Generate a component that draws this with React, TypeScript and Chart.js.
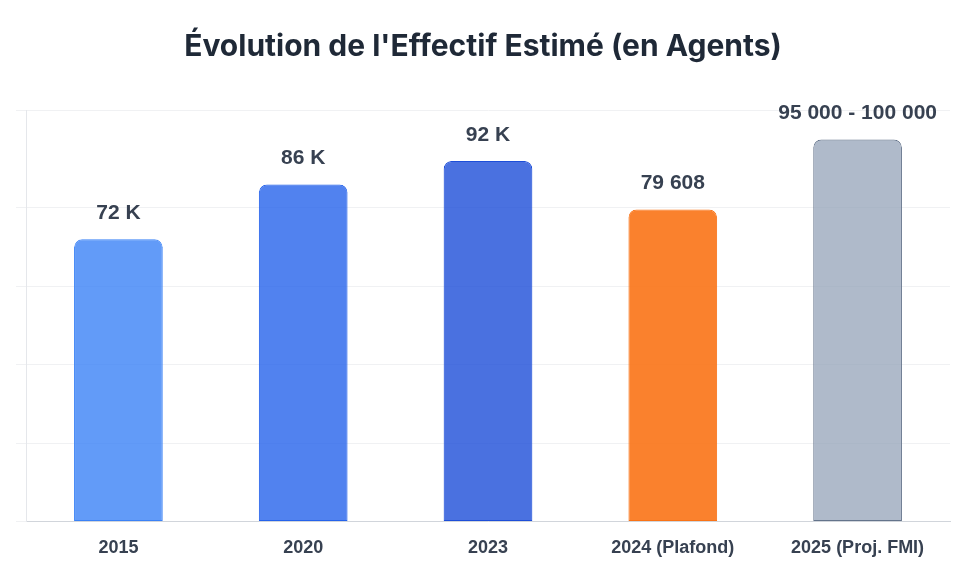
import React, { useEffect, useRef } from "react";
import { Chart, registerables } from "chart.js";

Chart.register(...registerables);

const categories = ["2015", "2020", "2023", "2024 (Plafond)", "2025 (Proj. FMI)"];
const values = [72000, 86000, 92000, 79608, 97500];
const valueLabels = ["72 K", "86 K", "92 K", "79 608", "95 000 - 100 000"];
const yTickValues = [0, 20000, 40000, 60000, 80000, 105000];
const fillColors = [
  "rgba(59,130,246,0.8)",
  "rgba(37,99,235,0.8)",
  "rgba(29,78,216,0.8)",
  "rgba(249,115,22,0.9)",
  "rgba(148,163,184,0.75)",
];
const borderColors = ["#3b82f6", "#2563eb", "#1d4ed8", "#f97316", "#64748b"];

const valueLabelPlugin = {
  id: "valueLabels",
  afterDatasetsDraw(chart: any) {
    const ctx = chart.ctx;
    const meta = chart.getDatasetMeta(0);
    ctx.save();
    ctx.font = "bold 21px 'Liberation Sans', Helvetica, Arial, sans-serif";
    ctx.fillStyle = "#374151";
    ctx.textAlign = "center";
    ctx.textBaseline = "middle";
    meta.data.forEach((bar: any, i: number) => {
      ctx.fillText(valueLabels[i], bar.x, bar.y - 26);
    });
    ctx.restore();
  },
};

export default function App() {
  const ref = useRef<HTMLCanvasElement | null>(null);
  useEffect(() => {
    if (!ref.current) return;
    const chart = new Chart(ref.current, {
      type: "bar",
      data: {
        labels: categories,
        datasets: [
          {
            data: values,
            backgroundColor: fillColors,
            borderColor: borderColors,
            borderWidth: 1,
            borderRadius: { topLeft: 8, topRight: 8, bottomLeft: 0, bottomRight: 0 },
            borderSkipped: false,
            barPercentage: 0.6,
            categoryPercentage: 0.8,
          },
        ],
      },
      options: {
        animation: false,
        responsive: true,
        maintainAspectRatio: false,
        layout: { padding: { left: 8, right: 7, top: 0, bottom: 0 } },
        plugins: {
          legend: { display: false },
          tooltip: { enabled: false },
          title: {
            display: true,
            text: "Évolution de l'Effectif Estimé (en Agents)",
            color: "#1f2937",
            font: { family: "Inter", size: 30, weight: "bold" },
            padding: { top: 21, bottom: 45 },
          },
        },
        scales: {
          x: {
            grid: { display: false, tickLength: 8 },
            border: { color: "#d1d5db" },
            ticks: {
              color: "#374151",
              padding: 8,
              font: { family: "'Liberation Sans', Helvetica, Arial", size: 18, weight: "bold" },
            },
          },
          y: {
            min: 0,
            max: 105000,
            afterBuildTicks: (axis: any) => {
              axis.ticks = yTickValues.map((v) => ({ value: v }));
            },
            ticks: { display: false },
            grid: { color: "#f0f1f3", tickLength: 10 },
            border: { color: "#e5e7eb" },
          },
        },
      },
      plugins: [valueLabelPlugin],
    });
    return () => chart.destroy();
  }, []);
  return (
    <div style={{ width: "949px", height: "559px" }}>
      <canvas ref={ref} />
    </div>
  );
}
